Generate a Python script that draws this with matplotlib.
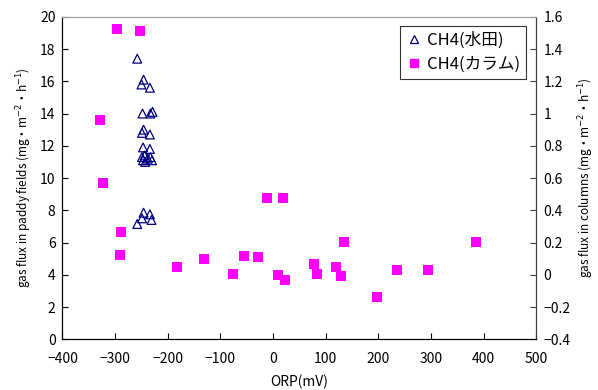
import matplotlib.pyplot as plt
from matplotlib.lines import Line2D

plt.rcParams['font.family'] = ['Noto Sans CJK JP', 'DejaVu Sans']

# CH4 flux in paddy fields (left axis)
paddy_orp = [-258, -246, -250, -234, -248, -233, -229, -246, -249, -234, -247, -234,
             -249, -244, -238, -233, -230, -247, -243, -246, -234, -249, -231, -258]
paddy_flux = [17.4, 16.1, 15.8, 15.6, 14.0, 14.0, 14.1, 13.0, 12.8, 12.7, 11.9, 11.8,
              11.3, 11.4, 11.2, 11.3, 11.1, 11.1, 11.0, 7.85, 7.75, 7.5, 7.4, 7.15]

# CH4 flux in columns (right axis)
column_orp = [-296, -253, -328, -323, -288, -290, -182, -131, -77, -56, -29, -11,
              19, 10, 23, 77, 84, 119, 129, 134, 197, 236, 294, 385]
column_flux = [1.525, 1.514, 0.958, 0.571, 0.264, 0.121, 0.046, 0.096, 0.002, 0.114,
               0.11, 0.479, 0.479, -0.004, -0.035, 0.07, 0.008, 0.046, -0.01, 0.204,
               -0.135, 0.027, 0.027, 0.204]

x_ticks = list(range(-400, 501, 100))
left_ticks = list(range(0, 21, 2))
right_ticks = [-0.4, -0.2, 0, 0.2, 0.4, 0.6, 0.8, 1, 1.2, 1.4, 1.6]

fig = plt.figure(figsize=(5.98, 3.9), dpi=100)
ax = fig.add_axes([0.1045, 0.130, 0.7925, 0.827])
ax2 = ax.twinx()

ax.scatter(paddy_orp, paddy_flux, marker='^', s=40, facecolors='none',
           edgecolors='#000080', linewidths=0.9, zorder=3)
ax2.scatter(column_orp, column_flux, marker='s', s=42, color='#FF00FF',
            linewidths=0, zorder=3)

ax.set_xlim(-400, 500)
ax.set_ylim(0, 20)
ax2.set_ylim(-0.4, 1.6)
ax.set_xticks(x_ticks)
ax.set_yticks(left_ticks)
ax2.set_yticks(right_ticks)
ax.set_xticklabels([str(v).replace('-', '\u2212') for v in x_ticks])
ax2.set_yticklabels(['\u22120.4', '\u22120.2', '0', '0.2', '0.4', '0.6', '0.8',
                     '1', '1.2', '1.4', '1.6'])

ax.tick_params(direction='in', length=4, labelsize=10, pad=5)
ax.tick_params(axis='x', pad=9)
ax2.tick_params(direction='in', length=4, labelsize=10, pad=5, color='#404040')

ax.set_xlabel('ORP(mV)', fontsize=10, labelpad=6)
ax.set_ylabel('gas flux in paddy fields (mg\u30fbm$^{-2}$\u30fbh$^{-1}$)', fontsize=8.5)
ax2.set_ylabel('gas flux in columns (mg\u30fbm$^{-2}$\u30fbh$^{-1}$)', fontsize=8.5)

for a in (ax, ax2):
    a.spines['top'].set_color('#A0A0A0')
    a.spines['left'].set_color('black')
    a.spines['bottom'].set_color('black')
    a.spines['right'].set_color('#404040')

handles = [
    Line2D([], [], marker='^', linestyle='none', markerfacecolor='none',
           markeredgecolor='#000080', markersize=6, markeredgewidth=0.9),
    Line2D([], [], marker='s', linestyle='none', color='#FF00FF', markersize=6),
]
leg = ax2.legend(handles, ['CH4(水田)', 'CH4(カラム)'], loc='upper right',
                 bbox_to_anchor=(0.978, 0.972), borderaxespad=0, fontsize=12,
                 frameon=True, fancybox=False, edgecolor='black',
                 handletextpad=0.3, handlelength=1.0, borderpad=0.35,
                 labelspacing=0.45)
leg.get_frame().set_linewidth(0.8)

fig.savefig('out.png', dpi=100)
